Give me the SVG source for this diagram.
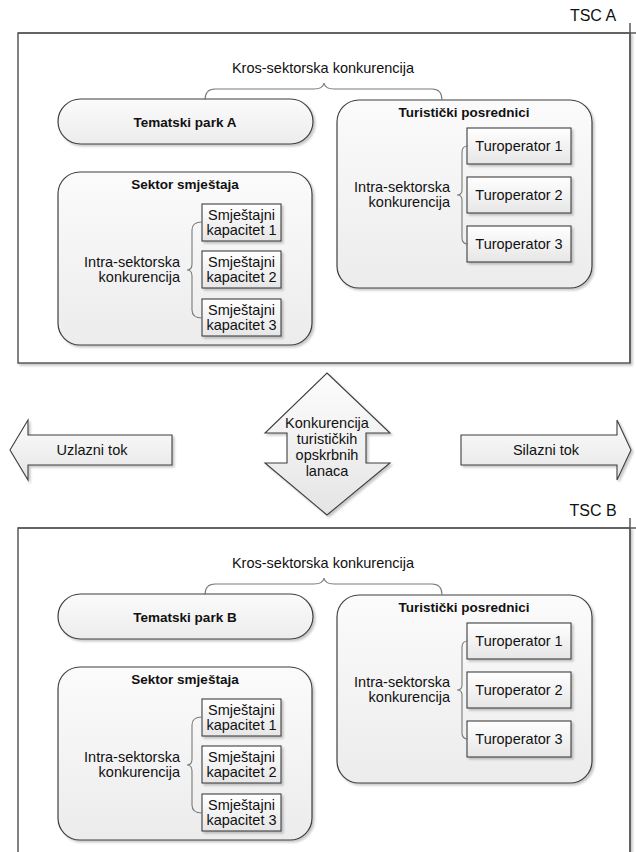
<svg xmlns="http://www.w3.org/2000/svg" width="636" height="852" viewBox="0 0 636 852">
<style>
text{font-family:"Liberation Sans",Arial,sans-serif;font-size:14.5px;fill:#111}
.b{font-weight:bold;font-size:13.5px}
.c{text-anchor:middle}
.r{text-anchor:end}
.lbl{font-size:16px}
.frame{fill:#fff;stroke:#595959;stroke-width:1.5}
.grp{fill:url(#gg);stroke:#3f3f3f;stroke-width:1.2}
.box{fill:url(#gb);stroke:#3f3f3f;stroke-width:1.1}
.arr{fill:url(#ga);stroke:#3f3f3f;stroke-width:1.1}
.brace{fill:none;stroke:#7a7a7a;stroke-width:1.1}
.ln{stroke:#595959;stroke-width:1.5;fill:none}
</style>
<defs>
<linearGradient id="gg" x1="0" y1="0" x2="0" y2="1"><stop offset="0" stop-color="#fbfbfb"/><stop offset="1" stop-color="#ececec"/></linearGradient>
<linearGradient id="gb" x1="0" y1="0" x2="0" y2="1"><stop offset="0" stop-color="#ffffff"/><stop offset="1" stop-color="#e6e6e6"/></linearGradient>
<linearGradient id="ga" x1="0" y1="0" x2="0" y2="1"><stop offset="0" stop-color="#fdfdfd"/><stop offset="1" stop-color="#e4e4e4"/></linearGradient>
<filter id="sh" x="-10%" y="-10%" width="130%" height="130%">
<feGaussianBlur in="SourceAlpha" stdDeviation="1.2"/>
<feOffset dx="2" dy="2" result="o"/>
<feFlood flood-color="#000" flood-opacity="0.22"/>
<feComposite in2="o" operator="in"/>
<feMerge><feMergeNode/><feMergeNode in="SourceGraphic"/></feMerge>
</filter>
</defs>

<!-- TSC A -->
<g id="tscA">
<rect class="frame" x="18" y="33" width="612" height="330" filter="url(#sh)"/>
<path class="ln" d="M18,33 H636 M630,23 V363"/>
<text class="lbl" x="593" y="21" text-anchor="middle">TSC A</text>
</g>
<g id="krosA"><text class="c" x="323" y="73">Kros-sektorska konkurencija</text></g>
<g id="parkA">
<rect class="grp" x="58" y="99" width="255" height="45" rx="22.5" filter="url(#sh)"/>
<text class="b c" x="185" y="127">Tematski park A</text>
</g>
<g id="smjestajA">
<rect class="grp" x="58" y="172" width="254" height="173" rx="22" filter="url(#sh)"/>
<text class="b c" x="185" y="189">Sektor smještaja</text>
<text class="r" x="180" y="267">Intra-sektorska</text>
<text class="r" x="180" y="282">konkurencija</text>
</g>
<g id="smjA1"><rect class="box" x="202" y="204" width="79" height="37" filter="url(#sh)"/><text class="c" x="241.5" y="220">Smještajni</text><text class="c" x="241.5" y="235">kapacitet 1</text></g>
<g id="smjA2"><rect class="box" x="202" y="251" width="79" height="37" filter="url(#sh)"/><text class="c" x="241.5" y="267">Smještajni</text><text class="c" x="241.5" y="282">kapacitet 2</text></g>
<g id="smjA3"><rect class="box" x="202" y="299" width="79" height="37" filter="url(#sh)"/><text class="c" x="241.5" y="315">Smještajni</text><text class="c" x="241.5" y="330">kapacitet 3</text></g>
<g id="posredniciA">
<rect class="grp" x="337" y="100" width="255" height="188" rx="22" filter="url(#sh)"/>
<text class="b c" x="464" y="117">Turistički posrednici</text>
<text class="r" x="450" y="192">Intra-sektorska</text>
<text class="r" x="450" y="207">konkurencija</text>
</g>
<g id="turA1"><rect class="box" x="467" y="128" width="104" height="36" filter="url(#sh)"/><text class="c" x="519" y="151">Turoperator 1</text></g>
<g id="turA2"><rect class="box" x="467" y="177" width="104" height="36" filter="url(#sh)"/><text class="c" x="519" y="200">Turoperator 2</text></g>
<g id="turA3"><rect class="box" x="467" y="226" width="104" height="36" filter="url(#sh)"/><text class="c" x="519" y="249">Turoperator 3</text></g>

<!-- TSC B -->
<g id="tscB">
<rect class="frame" x="18" y="528" width="612" height="340" filter="url(#sh)"/>
<path class="ln" d="M18,528 H636 M630,518 V860"/>
<text class="lbl" x="593" y="516" text-anchor="middle">TSC B</text>
</g>
<g id="krosB"><text class="c" x="323" y="568">Kros-sektorska konkurencija</text></g>
<g id="parkB">
<rect class="grp" x="58" y="594" width="255" height="45" rx="22.5" filter="url(#sh)"/>
<text class="b c" x="185" y="622">Tematski park B</text>
</g>
<g id="smjestajB">
<rect class="grp" x="58" y="667" width="254" height="173" rx="22" filter="url(#sh)"/>
<text class="b c" x="185" y="684">Sektor smještaja</text>
<text class="r" x="180" y="762">Intra-sektorska</text>
<text class="r" x="180" y="777">konkurencija</text>
</g>
<g id="smjB1"><rect class="box" x="202" y="699" width="79" height="37" filter="url(#sh)"/><text class="c" x="241.5" y="715">Smještajni</text><text class="c" x="241.5" y="730">kapacitet 1</text></g>
<g id="smjB2"><rect class="box" x="202" y="746" width="79" height="37" filter="url(#sh)"/><text class="c" x="241.5" y="762">Smještajni</text><text class="c" x="241.5" y="777">kapacitet 2</text></g>
<g id="smjB3"><rect class="box" x="202" y="794" width="79" height="37" filter="url(#sh)"/><text class="c" x="241.5" y="810">Smještajni</text><text class="c" x="241.5" y="825">kapacitet 3</text></g>
<g id="posredniciB">
<rect class="grp" x="337" y="595" width="255" height="188" rx="22" filter="url(#sh)"/>
<text class="b c" x="464" y="612">Turistički posrednici</text>
<text class="r" x="450" y="687">Intra-sektorska</text>
<text class="r" x="450" y="702">konkurencija</text>
</g>
<g id="turB1"><rect class="box" x="467" y="623" width="104" height="36" filter="url(#sh)"/><text class="c" x="519" y="646">Turoperator 1</text></g>
<g id="turB2"><rect class="box" x="467" y="672" width="104" height="36" filter="url(#sh)"/><text class="c" x="519" y="695">Turoperator 2</text></g>
<g id="turB3"><rect class="box" x="467" y="721" width="104" height="36" filter="url(#sh)"/><text class="c" x="519" y="744">Turoperator 3</text></g>

<!-- middle arrows -->
<g id="uzlazni">
<path class="arr" d="M10,450 L28,420 V435 H172 V465 H28 V480 Z" filter="url(#sh)"/>
<text class="c" x="92" y="455">Uzlazni tok</text>
</g>
<g id="silazni">
<path class="arr" d="M461,435 H617 V420 L631,450 L617,480 V465 H461 Z" filter="url(#sh)"/>
<text class="c" x="546" y="455">Silazni tok</text>
</g>
<g id="konkurencija">
<path class="arr" d="M327,373 L390,433 H366 V463 H390 L327,515 L265,463 H287 V433 H265 Z" filter="url(#sh)"/>
<text class="c" x="327" y="428">Konkurencija</text>
<text class="c" x="327" y="444">turističkih</text>
<text class="c" x="327" y="460">opskrbnih</text>
<text class="c" x="327" y="476">lanaca</text>
</g>

<!-- connectors (braces) -->
<g id="connectors">
<path class="brace" d="M205,100 Q205,89 215,89 H314 Q323,89 324,83 Q325,89 334,89 H432 Q442,89 442,100"/>
<path class="brace" d="M202,222 Q192,222 192,230 V264 Q192,270 187,270 Q192,270 192,276 V310 Q192,318 202,318"/>
<path class="brace" d="M468,146 Q462,146 462,152 V190 Q462,195 457,195 Q462,195 462,200 V238 Q462,244 468,244"/>
<path class="brace" d="M205,595 Q205,584 215,584 H314 Q323,584 324,578 Q325,584 334,584 H432 Q442,584 442,595"/>
<path class="brace" d="M202,717 Q192,717 192,725 V759 Q192,765 187,765 Q192,765 192,771 V805 Q192,813 202,813"/>
<path class="brace" d="M468,641 Q462,641 462,647 V685 Q462,690 457,690 Q462,690 462,695 V733 Q462,739 468,739"/>
</g>
</svg>
